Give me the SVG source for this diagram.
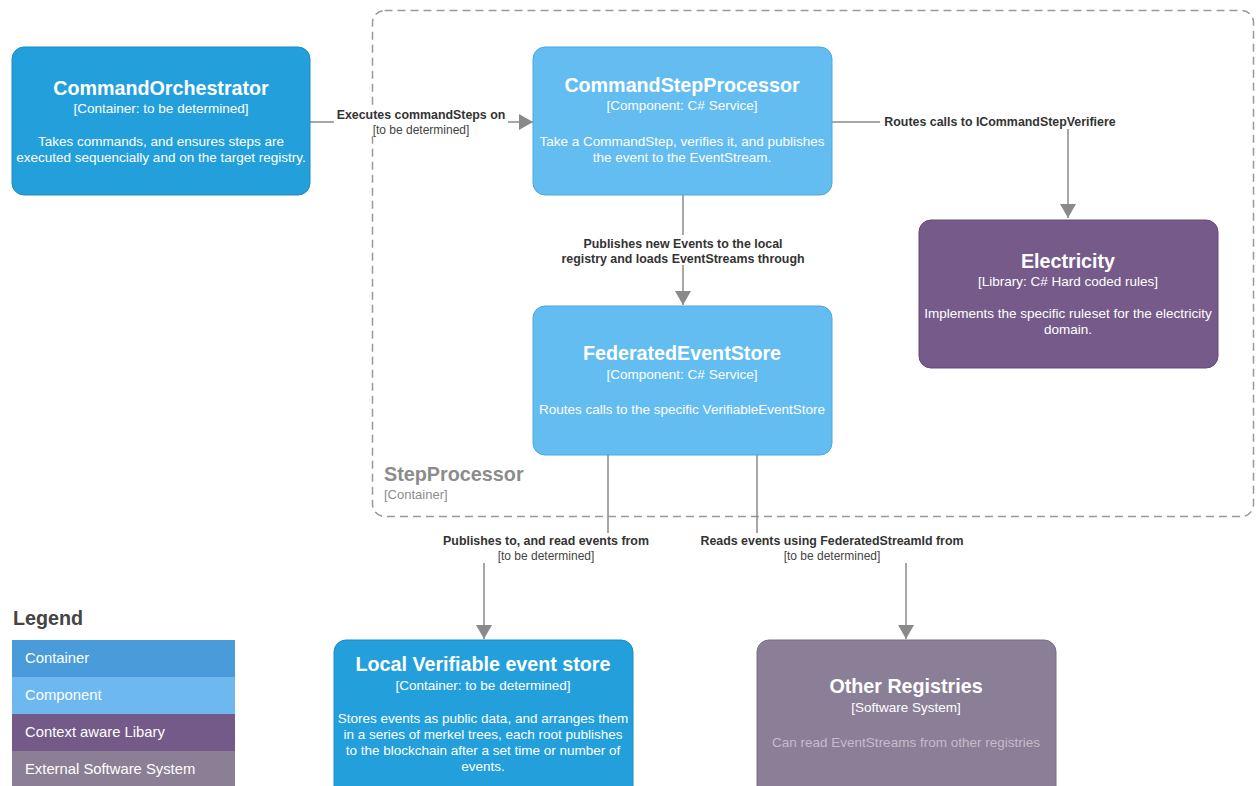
<svg xmlns="http://www.w3.org/2000/svg" width="1257" height="786" viewBox="0 0 1257 786">
  <defs>
    <marker id="arrow" viewBox="0 0 14 16" refX="14" refY="8" markerWidth="14" markerHeight="16" markerUnits="userSpaceOnUse" orient="auto">
      <path d="M0,0 L14,8 L0,16 Z" fill="#8a8a8a"/>
    </marker>
    <style>
      text { font-family: "Liberation Sans", Arial, sans-serif; }
      .title { font-size: 19.7px; font-weight: bold; fill: #ffffff; text-anchor: middle; }
      .sub { font-size: 13.5px; fill: #ffffff; text-anchor: middle; }
      .desc { font-size: 13.5px; fill: #ffffff; text-anchor: middle; }
      .container { fill: #23a0dc; stroke: #1b8cc4; stroke-width: 1; }
      .component { fill: #63bdf1; stroke: #4aa8e0; stroke-width: 1; }
      .library { fill: #765b8a; stroke: #654a79; stroke-width: 1; }
      .external { fill: #8b7f97; stroke: #7a6e86; stroke-width: 1; }
      .edge { fill: none; stroke: #8a8a8a; stroke-width: 1.5; }
      .elabel { font-size: 12.4px; font-weight: bold; fill: #333333; text-anchor: middle; }
      .etech { font-size: 12px; fill: #444444; text-anchor: middle; }
      .bg { fill: #ffffff; }
      .legend-text { font-size: 14.8px; fill: #ffffff; }
    </style>
  </defs>

  <rect width="1257" height="786" fill="#ffffff"/>

  <!-- StepProcessor container boundary -->
  <g id="boundary-stepprocessor">
    <rect x="372.5" y="10.5" width="881" height="506" rx="12" fill="none" stroke="#999999" stroke-width="1.5" stroke-dasharray="8,5"/>
    <text x="384" y="481" style="font-size:19.8px;font-weight:bold;fill:#8c8c8c">StepProcessor</text>
    <text x="384" y="499" style="font-size:13px;fill:#8c8c8c">[Container]</text>
  </g>

  <!-- Connectors -->
  <g id="connectors">
    <path class="edge" d="M310,122 L533,122" marker-end="url(#arrow)"/>
    <rect class="bg" x="334" y="108" width="174" height="28"/>
    <text class="elabel" x="421" y="119">Executes commandSteps on</text>
    <text class="etech" x="421" y="134">[to be determined]</text>

    <path class="edge" d="M832,122 L1068,122 L1068,218" marker-end="url(#arrow)"/>
    <rect class="bg" x="880" y="113" width="240" height="16"/>
    <text class="elabel" x="1000" y="126">Routes calls to ICommandStepVerifiere</text>

    <path class="edge" d="M683,195 L683,305" marker-end="url(#arrow)"/>
    <rect class="bg" x="555" y="235" width="256" height="30"/>
    <text class="elabel" x="683" y="248">Publishes new Events to the local</text>
    <text class="elabel" x="683" y="263">registry and loads EventStreams through</text>

    <path class="edge" d="M608,455 L608,548 L484,548 L484,639" marker-end="url(#arrow)"/>
    <rect class="bg" x="436" y="533" width="220" height="30"/>
    <text class="elabel" x="546" y="545">Publishes to, and read events from</text>
    <text class="etech" x="546" y="560">[to be determined]</text>

    <path class="edge" d="M757,455 L757,548 L906,548 L906,639" marker-end="url(#arrow)"/>
    <rect class="bg" x="694" y="533" width="276" height="30"/>
    <text class="elabel" x="832" y="545">Reads events using FederatedStreamId from</text>
    <text class="etech" x="832" y="560">[to be determined]</text>
  </g>

  <!-- CommandOrchestrator -->
  <g id="node-commandorchestrator">
    <rect class="container" x="12" y="47" width="298" height="148" rx="12"/>
    <text class="title" x="161" y="95">CommandOrchestrator</text>
    <text class="sub" x="161" y="113">[Container: to be determined]</text>
    <text class="desc" x="161" y="146">Takes commands, and ensures steps are</text>
    <text class="desc" x="161" y="162">executed sequencially and on the target registry.</text>
  </g>

  <!-- CommandStepProcessor -->
  <g id="node-commandstepprocessor">
    <rect class="component" x="533" y="47" width="299" height="148" rx="12"/>
    <text class="title" x="682" y="92">CommandStepProcessor</text>
    <text class="sub" x="682" y="110">[Component: C# Service]</text>
    <text class="desc" x="682" y="146">Take a CommandStep, verifies it, and publishes</text>
    <text class="desc" x="682" y="162">the event to the EventStream.</text>
  </g>

  <!-- Electricity -->
  <g id="node-electricity">
    <rect class="library" x="919" y="220" width="299" height="148" rx="12"/>
    <text class="title" x="1068" y="268">Electricity</text>
    <text class="sub" x="1068" y="286">[Library: C# Hard coded rules]</text>
    <text class="desc" x="1068" y="318">Implements the specific ruleset for the electricity</text>
    <text class="desc" x="1068" y="334">domain.</text>
  </g>

  <!-- FederatedEventStore -->
  <g id="node-federatedeventstore">
    <rect class="component" x="533" y="306" width="299" height="149" rx="12"/>
    <text class="title" x="682" y="360">FederatedEventStore</text>
    <text class="sub" x="682" y="379">[Component: C# Service]</text>
    <text class="desc" x="682" y="414">Routes calls to the specific VerifiableEventStore</text>
  </g>

  <!-- Local Verifiable event store -->
  <g id="node-localverifiableeventstore">
    <rect class="container" x="334" y="640" width="299" height="160" rx="12"/>
    <text class="title" x="483" y="671">Local Verifiable event store</text>
    <text class="sub" x="483" y="690">[Container: to be determined]</text>
    <text class="desc" x="483" y="723">Stores events as public data, and arranges them</text>
    <text class="desc" x="483" y="739">in a series of merkel trees, each root publishes</text>
    <text class="desc" x="483" y="755">to the blockchain after a set time or number of</text>
    <text class="desc" x="483" y="771">events.</text>
  </g>

  <!-- Other Registries -->
  <g id="node-otherregistries">
    <rect class="external" x="757" y="640" width="299" height="160" rx="12"/>
    <text class="title" x="906" y="693">Other Registries</text>
    <text class="sub" x="906" y="712">[Software System]</text>
    <text class="desc" x="906" y="747" style="fill:#c4bccc">Can read EventStreams from other registries</text>
  </g>

  <!-- Legend -->
  <g id="legend">
    <text x="13" y="625" style="font-size:19.7px;font-weight:bold;fill:#444444">Legend</text>
    <rect x="12" y="640" width="223" height="37" fill="#4a9bd9"/>
    <text class="legend-text" x="25" y="663">Container</text>
    <rect x="12" y="677" width="223" height="37" fill="#6cb8ef"/>
    <text class="legend-text" x="25" y="700">Component</text>
    <rect x="12" y="714" width="223" height="37" fill="#745a88"/>
    <text class="legend-text" x="25" y="737">Context aware Libary</text>
    <rect x="12" y="751" width="223" height="37" fill="#8b7f96"/>
    <text class="legend-text" x="25" y="774">External Software System</text>
  </g>
</svg>
